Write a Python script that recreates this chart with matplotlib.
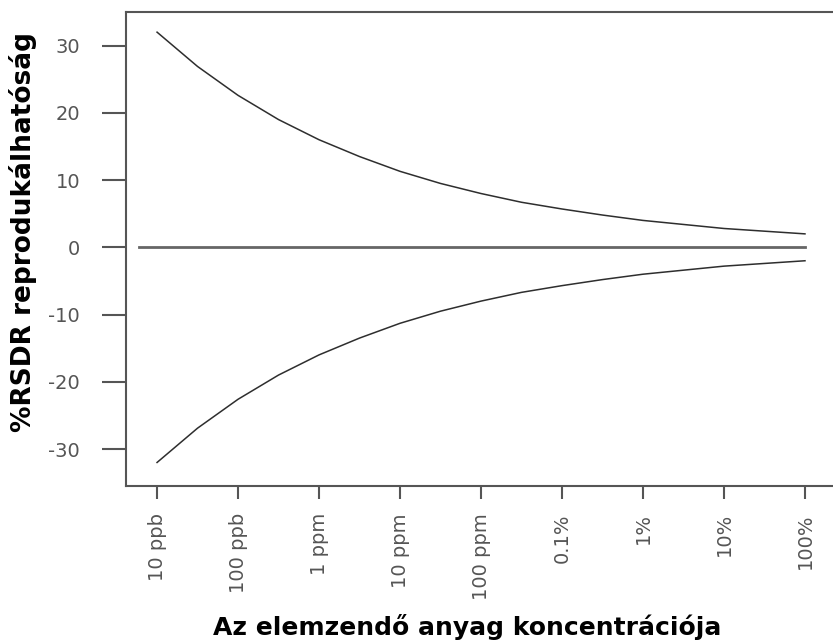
import matplotlib
matplotlib.use("Agg")
import matplotlib.pyplot as plt

plt.rcParams['font.family'] = ['DejaVu Sans']

# koncentráció (tömegtört) és a leolvasott %RSDR értékek
conc = [1e-8, 3.16e-8, 1e-7, 3.16e-7, 1e-6, 3.16e-6, 1e-5, 3.16e-5, 1e-4,
        3.16e-4, 1e-3, 3.16e-3, 1e-2, 3.16e-2, 1e-1, 3.16e-1, 1.0]
upper_rsd = [32, 26.9, 22.6, 19.0, 16.0, 13.5, 11.3, 9.5, 8.0,
             6.7, 5.7, 4.8, 4.0, 3.4, 2.8, 2.4, 2.0]
lower_rsd = [-32, -26.9, -22.6, -19.0, -16.0, -13.5, -11.3, -9.5, -8.0,
             -6.7, -5.7, -4.8, -4.0, -3.4, -2.8, -2.4, -2.0]
zero_x = [6e-9, 1.0]
zero_y = [0, 0]

tick_pos = [1e-8, 1e-7, 1e-6, 1e-5, 1e-4, 1e-3, 1e-2, 1e-1, 1.0]
tick_lab = ['10 ppb', '100 ppb', '1 ppm', '10 ppm', '100 ppm',
            '0.1%', '1%', '10%', '100%']
ytick_pos = [30, 20, 10, 0, -10, -20, -30]

fig = plt.figure(figsize=(8.33, 6.41), dpi=100)
ax = fig.add_axes([0.1513, 0.2418, 0.8487, 0.7395])

ax.plot(conc, upper_rsd, color='#2e2e2e', lw=1.1)
ax.plot(conc, lower_rsd, color='#2e2e2e', lw=1.1)
ax.plot(zero_x, zero_y, color='#666666', lw=2)

ax.set_xscale('log')
ax.set_xlim(10 ** -8.383, 10 ** 0.346)
ax.set_ylim(-35.5, 35)
ax.minorticks_off()

ax.set_xticks(tick_pos)
ax.set_xticklabels(tick_lab, rotation=90)
ax.set_yticks(ytick_pos)
ax.set_yticklabels([str(v) for v in ytick_pos])

for s in ['left', 'bottom', 'top']:
    ax.spines[s].set_color('#555555')
    ax.spines[s].set_linewidth(1.5)
ax.spines['right'].set_visible(False)

ax.tick_params(axis='y', length=17, width=1.5, color='#555555',
               labelcolor='#555555', labelsize=14, pad=16)
ax.tick_params(axis='x', length=9.5, width=1.5, color='#555555',
               labelcolor='#555555', labelsize=14, pad=10)

ax.set_ylabel('%RSDR reprodukálhatóság', fontsize=19, fontweight='bold')
ax.set_xlabel('Az elemzendő anyag koncentrációja', fontsize=18,
              fontweight='bold')
ax.yaxis.set_label_coords(-0.126, 0.536)
ax.xaxis.set_label_coords(0.482, -0.27)

fig.savefig('out.png', dpi=100)
